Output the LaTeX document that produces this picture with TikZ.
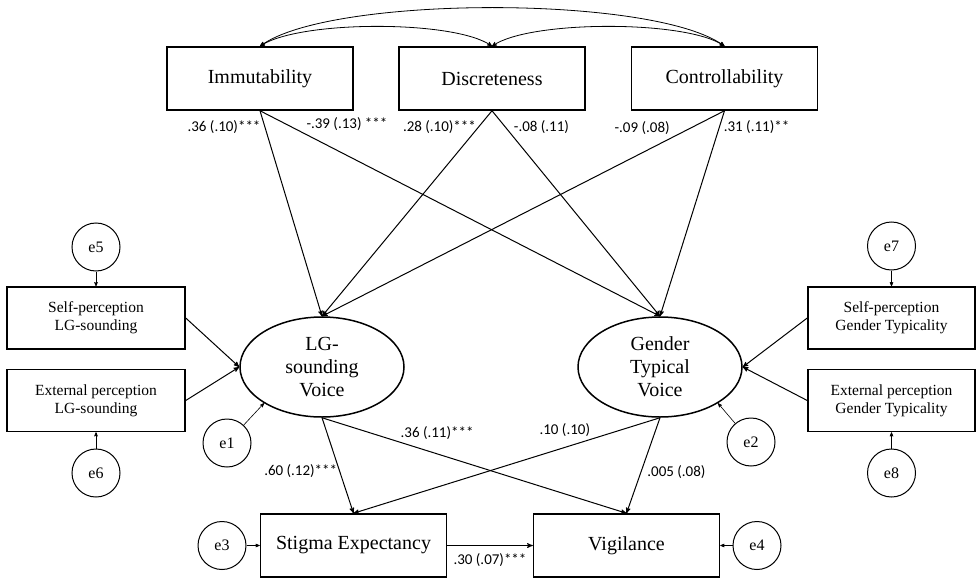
\documentclass[tikz,border=0pt]{standalone}
\usepackage{fontspec}
\setmainfont{Liberation Serif}
\newfontfamily\coeffont{Carlito}
\usepackage{tikz}
\usetikzlibrary{arrows,shapes.geometric}
\usetikzlibrary{positioning}
\tikzset{
    obs/.style={
           rectangle,
           draw=black, line width=1.5pt,
           minimum width=186pt,
           minimum height=63pt,
           inner sep=2pt,
           text centered,
           font=\fontsize{20}{23}\selectfont
           },
    side/.style={
           obs,
           minimum width=178pt,
           minimum height=62pt,
           align=center,
           font=\fontsize{15.5}{18}\selectfont
           },
    latent/.style={
           ellipse,
           draw=black, line width=1.5pt,
           minimum width=164pt,
           minimum height=100pt,
           inner sep=0pt,
           align=center,
           font=\fontsize{20}{23}\selectfont
           },
    err/.style={
           circle,
           draw=black, line width=1pt,
           minimum size=48pt,
           inner sep=0pt,
           font=\fontsize{16}{18}\selectfont
           },
    coef/.style={font=\coeffont\fontsize{15}{17}\selectfont, inner sep=2pt},
}

\begin{document}
\begin{tikzpicture}[->,>=stealth',x=1pt,y=-1pt,line width=1pt]
\useasboundingbox (0,0) rectangle (977,578);

% stigma dimensions
\node[obs] (IMMUT) at (260,78.5) {Immutability};
\node[obs, right of=IMMUT, node distance=232pt] (DISCR) {Discreteness};
\node[obs, right of=DISCR, node distance=232.5pt] (CONTROL) {Controllability};

% latent voice variables
\node[latent] (LGVOICE) at (322,367) {LG-\\sounding\\Voice};
\node[latent, right of=LGVOICE, node distance=338pt] (GTVOICE) {Gender\\Typical\\Voice};

% indicators
\node[side] (SELFLG) at (96,318) {Self-perception\\LG-sounding};
\node[side, below of=SELFLG, node distance=82.5pt] (EXTLG) {External perception\\LG-sounding};
\node[side, minimum width=167pt] (SELFGT) at (891.5,318) {Self-perception\\Gender Typicality};
\node[side, minimum width=167pt, below of=SELFGT, node distance=82.5pt] (EXTGT) {External perception\\Gender Typicality};

% outcomes
\node[obs] (STIGMA) at (353.5,545.5) {Stigma Expectancy};
\node[obs, right of=STIGMA, node distance=273pt] (VIGIL) {Vigilance};

% error terms
\node[err, above of=SELFLG, node distance=71pt] (E5) {e5};
\node[err, below of=EXTLG, node distance=72.5pt] (E6) {e6};
\node[err, above of=SELFGT, node distance=72pt] (E7) {e7};
\node[err, below of=EXTGT, node distance=72.5pt] (E8) {e8};
\node[err] (E1) at (227,443) {e1};
\node[err] (E2) at (751,442) {e2};
\node[err, left of=STIGMA, node distance=131.5pt] (E3) {e3};
\node[err, right of=VIGIL, node distance=130.5pt] (E4) {e4};

% covariances
\draw[<->, line width=0.8pt] (IMMUT.north) .. controls (330,-5) and (655,-5) .. (CONTROL.north);
\draw[<->, line width=0.8pt] (IMMUT.north) .. controls (300,20) and (455,20) .. (DISCR.north);
\draw[<->, line width=0.8pt] (DISCR.north) .. controls (530,20) and (687,20) .. (CONTROL.north);

\path (IMMUT.south)   edge node[coef, pos=0.08, left, xshift=-2pt] {.36 (.10)***} (LGVOICE.north)
(IMMUT.south)   edge node[coef, pos=0.11, anchor=south west] {-.39 (.13) ***} (GTVOICE.north)
(DISCR.south)   edge node[coef, pos=0.08, left] {.28 (.10)***} (LGVOICE.north)
(DISCR.south)   edge node[coef, pos=0.08, right, xshift=6pt] {-.08 (.11)} (GTVOICE.north)
(CONTROL.south) edge node[coef, pos=0.13, anchor=south east] {-.09 (.08)} (LGVOICE.north)
(CONTROL.south) edge node[coef, pos=0.08, right, xshift=2pt] {.31 (.11)**} (GTVOICE.north)
;

\path (SELFLG.east) edge (LGVOICE.west)
(EXTLG.east)  edge (LGVOICE.west)
(SELFGT.west) edge (GTVOICE.east)
(EXTGT.west)  edge (GTVOICE.east)
;

\path[line width=0.6pt] (E5) edge (SELFLG)
(E6) edge (EXTLG)
(E7) edge (SELFGT)
(E8) edge (EXTGT)
(E1) edge (LGVOICE.212)
(E2) edge (GTVOICE.328)
(E3) edge (STIGMA)
(E4) edge (VIGIL)
;

\path (LGVOICE.south) edge node[coef, pos=0.56, left] {.60 (.12)***} (STIGMA.north)
(LGVOICE.south) edge node[coef, pos=0.25, anchor=south west] {.36 (.11)***} (VIGIL.north)
(GTVOICE.south) edge node[coef, pos=0.22, anchor=south east] {.10 (.10)} (STIGMA.north)
(GTVOICE.south) edge node[coef, pos=0.57, right, xshift=4pt] {.005 (.08)} (VIGIL.north)
(STIGMA) edge node[coef, below, yshift=-6pt] {.30 (.07)***} (VIGIL)
;

\end{tikzpicture}
\end{document}
